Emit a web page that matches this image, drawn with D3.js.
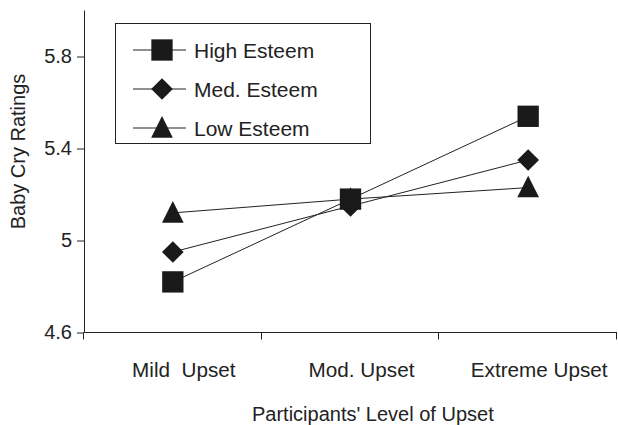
<html lang="en">
<head>
<meta charset="utf-8">
<title>Baby Cry Ratings</title>
<script src="https://d3js.org/d3.v7.min.js"></script>
<style>
  body { margin: 0; background: #fff; }
  text { font-family: "Liberation Sans", Arial, sans-serif; fill: #222; }
</style>
</head>
<body>
<svg width="618" height="425"></svg>
<script>
var categories = ["Mild  Upset", "Mod. Upset", "Extreme Upset"];
var seriesNames = ["High Esteem", "Med. Esteem", "Low Esteem"];
var highEsteem = [4.82, 5.18, 5.54];
var medEsteem = [4.95, 5.15, 5.35];
var lowEsteem = [5.12, 5.18, 5.23];
var yTicks = [4.6, 5, 5.4, 5.8];
var yTickLabels = ["4.6", "5", "5.4", "5.8"];

// custom marker shapes (equal-diagonal diamond, triangle as tall as wide)
var diamond = {
  draw: function(ctx, size) {
    var r = Math.sqrt(size / 2);
    ctx.moveTo(0, -r); ctx.lineTo(r, 0); ctx.lineTo(0, r); ctx.lineTo(-r, 0); ctx.closePath();
  }
};
var triangle = {
  draw: function(ctx, size) {
    var w = Math.sqrt(size * 2), h = w;
    ctx.moveTo(0, -h * 0.55); ctx.lineTo(w / 2, h * 0.45); ctx.lineTo(-w / 2, h * 0.45); ctx.closePath();
  }
};

var series = [
  {name: seriesNames[0], values: highEsteem, symbol: d3.symbolSquare, size: 455},
  {name: seriesNames[1], values: medEsteem, symbol: diamond, size: 235},
  {name: seriesNames[2], values: lowEsteem, symbol: triangle, size: 235}
];

var svg = d3.select("svg");
var x0 = 84, x1 = 617, y0 = 332.5, y1 = 10.5;

var x = d3.scaleBand().domain(categories).range([x0, x1]);
var y = d3.scaleLinear().domain([4.6, 6.0]).range([y0, y1]);

// y axis
var yAxis = svg.append("g")
  .attr("transform", "translate(" + x0 + ",0)")
  .call(d3.axisLeft(y).tickValues(yTicks).tickSize(7).tickPadding(5)
    .tickFormat(function(d, i) { return yTickLabels[i]; }));
yAxis.select(".domain").attr("d", "M0.5," + y1 + "V" + y0).attr("stroke", "#222");
yAxis.selectAll("line").attr("stroke", "#222");
yAxis.selectAll("text").style("font-size", "20px").attr("fill", "#222");

// x axis (ticks on band boundaries)
var xAxis = svg.append("g").attr("transform", "translate(0," + y0 + ")");
xAxis.append("line").attr("x1", x0).attr("x2", x1).attr("stroke", "#222");
var bounds = categories.map(function(c) { return x(c); }).concat([x1]);
xAxis.selectAll(".xt").data(bounds).enter().append("line")
  .attr("x1", function(d) { return Math.round(d) - 0.5; })
  .attr("x2", function(d) { return Math.round(d) - 0.5; })
  .attr("y1", 0).attr("y2", 7).attr("stroke", "#222");
xAxis.selectAll(".xl").data(categories).enter().append("text")
  .attr("x", function(d) { return x(d) + x.bandwidth() / 2 + 11; })
  .attr("y", 44.5)
  .attr("text-anchor", "middle")
  .style("font-size", "20.7px")
  .style("white-space", "pre")
  .text(function(d) { return d; });

// axis titles
svg.append("text")
  .attr("transform", "translate(25,151.5) rotate(-90)")
  .attr("text-anchor", "middle")
  .style("font-size", "20px")
  .text("Baby Cry Ratings");
svg.append("text")
  .attr("x", 252).attr("y", 421)
  .style("font-size", "20px")
  .text("Participants' Level of Upset");

// lines and markers
var cx = function(i) { return x(categories[i]) + x.bandwidth() / 2; };
var line = d3.line().x(function(d, i) { return cx(i); }).y(function(d) { return y(d); });

series.forEach(function(s) {
  svg.append("path").datum(s.values)
    .attr("d", line).attr("fill", "none").attr("stroke", "#222").attr("stroke-width", 1);
});
series.forEach(function(s) {
  svg.selectAll(null).data(s.values).enter().append("path")
    .attr("d", d3.symbol().type(s.symbol).size(s.size))
    .attr("transform", function(d, i) { return "translate(" + cx(i) + "," + y(d) + ")"; })
    .attr("fill", "#1a1a1a");
});

// legend
var legend = svg.append("g");
legend.append("rect").attr("x", 115.5).attr("y", 23.5).attr("width", 255).attr("height", 120)
  .attr("fill", "#fff").attr("stroke", "#222");
var legY = [50, 89, 128];
series.forEach(function(s, i) {
  legend.append("line").attr("x1", 133).attr("x2", 186)
    .attr("y1", legY[i]).attr("y2", legY[i]).attr("stroke", "#222");
  legend.append("path").attr("d", d3.symbol().type(s.symbol).size(s.size))
    .attr("transform", "translate(162," + legY[i] + ")").attr("fill", "#1a1a1a");
  legend.append("text").attr("x", 194).attr("y", legY[i] + 7.5)
    .style("font-size", "21px").text(s.name);
});
</script>
</body>
</html>
